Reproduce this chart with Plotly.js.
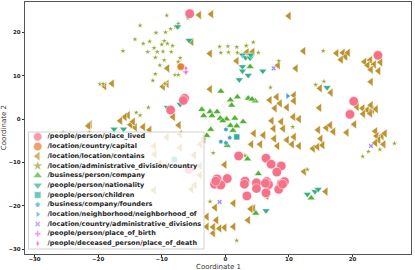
<!DOCTYPE html>
<html><head><meta charset="utf-8">
<script src="https://cdn.plot.ly/plotly-3.0.1.min.js"></script>
<style>html,body{margin:0;padding:0;background:#fff;}#chart{width:415px;height:270px;}</style>
</head><body><div id="chart"></div>
<script>
// ---- data (t-SNE coordinates) ----
const categories = [
  "/people/person/place_lived",
  "/location/country/capital",
  "/location/location/contains",
  "/location/administrative_division/country",
  "/business/person/company",
  "/people/person/nationality",
  "/people/person/children",
  "/business/company/founders",
  "/location/neighborhood/neighborhood_of",
  "/location/country/administrative_divisions",
  "/people/person/place_of_birth",
  "/people/deceased_person/place_of_death"
];
const xTitle = "Coordinate 1";
const yTitle = "Coordinate 2";
const tickValues = [-30,-20,-10,0,10,20];

const placeLivedX = [-5.6,-6.4,-6.6,-8.6,24.0,20.2,19.6,2.1,6.4,7.2,8.8,8.1,-1.3,0.3,-1.7,-0.7,3.1,3.0,4.9,4.9,6.5,6.8,8.8,9.3,8.4,6.4,3.4,-5.7,-1.5,9.0,6.3];
const placeLivedY = [24.3,4.8,4.3,2.1,14.7,4.1,1.1,-8.5,-9.0,-10.4,-10.8,-12.2,-13.8,-13.7,-15.0,-15.2,-14.3,-15.0,-14.7,-16.0,-14.4,-15.1,-14.9,-14.4,-16.2,-17.0,-17.7,-11.6,-14.3,-15.0,-14.8];

const capitalX = [-7.0];
const capitalY = [12.1];

const containsX = [-5.5,-4.1,-2.2,10.0,-5.3,-2.4,3.4,4.3,1.8,8.3,11.1,12.3,17.5,18.5,18.9,19.3,18.2,21.9,22.8,22.4,23.4,24.4,24.1,22.9,22.9,
  -2.4,-9.1,-9.2,-9.8,-17.8,-19.0,14.9,16.6,10.8,8.1,7.0,8.6,7.8,9.7,10.8,14.8,20.7,21.6,22.3,23.1,21.7,22.8,23.7,22.9,20.3,19.1,
  10.7,11.6,8.8,7.6,9.1,10.8,7.7,9.7,10.5,11.6,8.2,6.0,4.5,4.1,5.5,7.3,14.6,15.9,16.5,17.0,15.0,13.8,14.5,15.3,
  23.6,23.8,24.6,25.1,24.1,24.9,23.6,15.8,12.4,6.5,-0.1,-1.6,1.3,4.4,3.6,1.3,-0.1,-0.9,-1.9,-1.9,-2.9,-1.4,-2.9,4.0,
  -8.2,-7.3,-11.9,-12.9,-14.2,-14.9,-14.5,-15.3,-15.8,-16.5,-21.3,-21.5,
  -11.2,-9.2,-7.1,-7.1,-3.9,-11.1,-10.3,-4.9,-4.0,-4.0,-4.8,-11.2,-5.3,-3.4];
const containsY = [24.3,24.0,24.2,23.8,17.8,15.1,15.4,15.5,13.4,12.4,11.7,15.7,15.2,15.3,14.4,15.3,13.7,13.2,13.6,12.4,12.6,13.1,11.1,11.4,8.6,
  6.9,11.7,8.1,7.5,8.2,7.6,7.1,6.1,5.5,5.1,4.4,3.6,2.5,2.7,4.2,2.6,2.8,2.5,2.1,2.1,1.2,1.3,2.3,3.2,-1.2,-3.1,
  0.5,0.0,-0.6,-2.2,-2.2,-4.1,-4.5,-4.8,-5.8,-6.2,-6.2,-3.7,-3.3,-5.8,-5.8,-0.4,-2.5,-2.0,-1.4,-2.9,-4.5,-6.8,-6.4,-6.0,
  -2.8,-3.9,-3.9,-3.3,-4.8,-5.8,-5.5,-16.7,-12.1,-17.7,-10.5,-20.4,-19.4,-20.6,-23.3,-24.8,-25.0,-25.2,-26.3,-24.9,-22.5,-23.3,-24.8,-20.7,
  0.5,-1.4,-2.5,-1.8,-1.9,-1.3,-0.6,0.9,0.5,-0.4,-1.2,-1.6,
  -6.2,-4.2,-3.5,-6.6,-5.8,-8.1,-10.2,-8.3,-10.8,-12.9,-15.2,-16.4,-16.2,-4.6];

const adminCountryX = [-9.2,-7.4,-5.9,-13.4,-10.9,-9.4,-8.6,-7.8,-14.2,-12.9,-11.9,-9.6,-9.1,-10.0,-8.3,-16.1,-12.2,-11.2,-10.7,-9.8,-8.5,-11.0,-9.6,-7.1,-10.3,-7.4,-11.0,-11.4,-7.9,-7.4,-19.7,-19.2,-9.5,-12.1,-14.0,-13.4,
  -0.9,0.4,1.8,3.3,4.4,-0.7,0.5,1.9,5.2,8.4,7.1,10.6,15.5,14.2,15.4,21.6,22.5,24.3,26.6,-1.9,-2.4,1.8,12.9,3.1,6.8,-3.5,-25.5,-21.4];
const adminCountryY = [23.9,22.0,23.3,21.6,19.9,20.0,20.8,21.3,18.4,17.4,17.9,18.0,17.4,17.2,16.9,15.7,15.5,16.4,15.5,15.6,15.5,14.2,13.6,14.1,12.4,13.2,10.4,8.9,10.2,10.2,8.1,8.1,8.2,2.7,1.5,0.9,
  16.7,16.8,16.6,16.9,17.7,15.3,15.4,15.3,15.3,13.4,7.3,-1.8,8.7,7.9,15.7,-8.6,-7.5,-7.0,-5.6,-7.8,-19.0,-28.0,-11.6,-8.4,-16.0,-5.2,-3.1,-3.0];

const companyX = [-0.7,0.8,1.9,3.6,4.7,3.9,1.0,-3.7,-2.4,-1.3,-3.4,-2.1,-0.8,0.2,1.5,2.8,0.8,1.8,-2.3,-2.9,0.3,3.5,5.2,13.5,4.8,4.2,-0.4,1.2];
const companyY = [6.4,4.4,5.1,4.8,4.2,12.1,3.2,2.2,1.7,1.7,0.8,0.8,0.2,0.0,0.2,-0.6,-1.5,-1.6,-2.4,-3.8,-6.1,-9.2,-12.6,-18.2,-21.7,4.6,-0.4,-2.6];

const nationalityX = [-7.5,-5.7,2.7,3.2,3.9,4.0,2.7,2.7,3.6,2.2,5.9,16.0,-7.1,-9.1,-17.5,-16.0,12.9,14.1,14.6,6.4];
const nationalityY = [21.3,18.2,14.8,14.2,14.1,14.8,12.1,11.1,10.1,9.1,11.1,7.3,3.4,2.7,-2.3,-2.3,-17.3,-16.7,-16.2,-21.1];

const childrenX = [1.8,-8.0];
const childrenY = [-4.1,-9.3];

const foundersX = [0.1,0.7,-0.7,0.1];
const foundersY = [-2.4,-4.3,-5.2,-5.5];

const neighborhoodX = [9.8];
const neighborhoodY = [5.3];

const adminDivX = [7.6,22.9,-0.9];
const adminDivY = [11.7,-6.2,-19.1];

const birthX = [-6.2];
const birthY = [10.9];

const deathX = [-6.2,-6.2];
const deathY = [11.7,10.8];

// ---- styles ----
const colors = ["#f77189","#e1802f","#bb9431","#97a431","#50b131","#34af8a","#36ada4","#38aabf","#3ba3ec","#a48cf4","#e866f4","#f668c2"];
const symbols = ["circle","circle","triangle-left","star","triangle-up","triangle-down","square","pentagon","triangle-right","x","cross","diamond-tall"];
const sizes = [9.5,7.5,8,4.6,7,7,6,5,6,4.5,4.5,4.5];
const legendSizes = [8.5,8.5,8.5,8,8,8,6.5,5.5,5.5,5,5,5];

const series = [
  [placeLivedX,placeLivedY],[capitalX,capitalY],[containsX,containsY],[adminCountryX,adminCountryY],
  [companyX,companyY],[nationalityX,nationalityY],[childrenX,childrenY],[foundersX,foundersY],
  [neighborhoodX,neighborhoodY],[adminDivX,adminDivY],[birthX,birthY],[deathX,deathY]
];
const drawOrder = [2,3,5,4,1,0,6,7,8,9,10,11];

const traces = [];
drawOrder.forEach(i => {
  traces.push({
    type:"scatter", mode:"markers", name:categories[i],
    x:series[i][0], y:series[i][1],
    marker:{symbol:symbols[i], color:colors[i], size:sizes[i], line:{color:"white", width:0.5}},
    hoverinfo:"skip", showlegend:false
  });
});

// ---- legend (drawn on an overlay pixel-space axis) ----
const lgLeft = 28.5, lgRight = 204, lgTop = 132, lgBottom = 249;
const rowY0 = 136.8, rowStep = 9.7, markX = 37.7, textX = 47.5;
const rowsY = categories.map((c,i) => rowY0 + i*rowStep);
traces.push({
  type:"scatter", mode:"lines", xaxis:"x2", yaxis:"y2",
  x:[lgLeft,lgRight,lgRight,lgLeft,lgLeft], y:[lgTop,lgTop,lgBottom,lgBottom,lgTop],
  fill:"toself", fillcolor:"rgba(255,255,255,0.8)", line:{color:"#d0d0d0", width:1},
  hoverinfo:"skip", showlegend:false
});
traces.push({
  type:"scatter", mode:"markers", xaxis:"x2", yaxis:"y2",
  x:categories.map(()=>markX), y:rowsY,
  marker:{symbol:symbols, color:colors, size:legendSizes, line:{color:"white", width:0.5}},
  hoverinfo:"skip", showlegend:false
});
traces.push({
  type:"scatter", mode:"text", xaxis:"x2", yaxis:"y2",
  x:categories.map(()=>textX), y:rowsY, text:categories, textposition:"middle right",
  textfont:{family:"DejaVu Sans", size:6.5, weight:"bold", color:"#262626"},
  hoverinfo:"skip", showlegend:false
});

const tickFont = {family:"DejaVu Sans", size:5.5, weight:"bold", color:"#262626"};
const titleFont = {family:"DejaVu Sans", size:7, color:"#333"};
const axisCommon = {tickvals:tickValues, ticks:"outside", ticklen:2, tickwidth:1, tickcolor:"#333",
  showline:true, mirror:true, linecolor:"#555", linewidth:1.2, showgrid:false, zeroline:false, tickfont:tickFont};
const layout = {
  width:415, height:270,
  margin:{l:25, r:4, t:2, b:16, pad:0},
  paper_bgcolor:"white", plot_bgcolor:"white",
  showlegend:false,
  xaxis:Object.assign({range:[-31.5,29.2], ticklabelstandoff:-3}, axisCommon),
  yaxis:Object.assign({range:[-31.1,27.0]}, axisCommon),
  xaxis2:{range:[25,411], overlaying:"x", anchor:"y2", visible:false, fixedrange:true},
  yaxis2:{range:[254,2], overlaying:"y", anchor:"x2", visible:false, fixedrange:true},
  annotations:[
    {text:xTitle, xref:"paper", yref:"paper", x:0.5, y:-0.053, xanchor:"center", yanchor:"middle", showarrow:false, borderpad:0, font:titleFont},
    {text:yTitle, xref:"paper", yref:"paper", x:-0.054, y:0.5, xanchor:"center", yanchor:"middle", textangle:-90, showarrow:false, borderpad:0, font:titleFont}
  ]
};
Plotly.newPlot("chart", traces, layout, {staticPlot:true, displayModeBar:false});
</script></body></html>
